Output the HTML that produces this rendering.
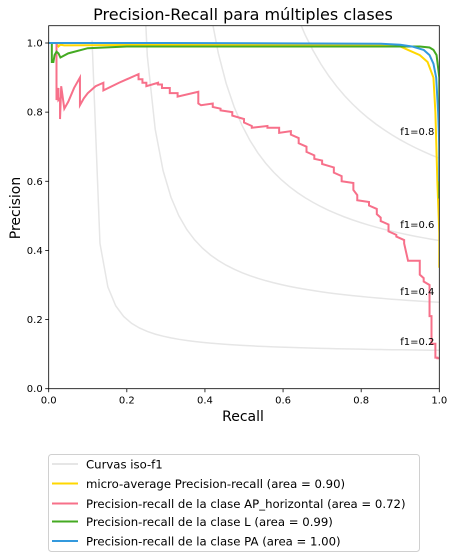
<!DOCTYPE html>
<html><head><meta charset="utf-8"><style>
html,body{margin:0;padding:0;background:#fff;}
svg{display:block;font-family:"DejaVu Sans","Liberation Sans",sans-serif;}
</style></head><body>
<svg id="chart" width="453" height="559" viewBox="0 0 453 559">
<text x="243" y="20" text-anchor="middle" font-size="16" fill="#000">Precision-Recall para múltiples clases</text>
<g id="plot"></g>
<text x="243" y="421" text-anchor="middle" font-size="14" fill="#000">Recall</text>
<text x="20" y="208" text-anchor="middle" font-size="14" fill="#000" transform="rotate(-90 20 208)">Precision</text>
<g>
<rect x="48.5" y="454.5" width="371" height="97" rx="3" fill="#fff" stroke="#d0d0d0"/>
<g id="legend"></g>
</g>
</svg>
<script>
const seriesNames=["micro-average Precision-recall (area = 0.90)","Precision-recall de la clase AP_horizontal (area = 0.72)","Precision-recall de la clase L (area = 0.99)","Precision-recall de la clase PA (area = 1.00)"];
const seriesColors=["gold","#f7708a","#44aa22","#3399dd"];
const isoF1=[0.2,0.4,0.6,0.8];
const xTicks=[0,0.2,0.4,0.6,0.8,1.0];
const yTicks=[0,0.2,0.4,0.6,0.8,1.0];
const microRecall=[0,0.02,0.025,0.03,0.04,0.3,0.6,0.85,0.9,0.92,0.95,0.97,0.985,0.99,0.995,1.0,1.0];
const microPrec=[1.0,1.0,0.99,0.995,0.993,0.995,0.995,0.993,0.99,0.98,0.965,0.945,0.9,0.8,0.6,0.45,0.35];
const apRecall=[0.02,0.02,0.025,0.025,0.029,0.029,0.032,0.04,0.05,0.065,0.08,0.08,0.09,0.1,0.12,0.14,0.14,0.18,0.23,0.23,0.24,0.24,0.25,0.25,0.28,0.28,0.29,0.29,0.31,0.31,0.33,0.33,0.383,0.383,0.39,0.42,0.42,0.44,0.44,0.47,0.47,0.5,0.5,0.52,0.52,0.56,0.56,0.59,0.59,0.62,0.62,0.64,0.64,0.66,0.66,0.68,0.68,0.7,0.7,0.73,0.73,0.75,0.75,0.78,0.78,0.79,0.79,0.82,0.82,0.84,0.84,0.85,0.85,0.87,0.87,0.89,0.89,0.91,0.91,0.92,0.92,0.95,0.95,0.96,0.96,0.975,0.975,0.98,0.98,0.99,0.99,0.995,0.995,1.0];
const apPrec=[1.0,0.835,0.87,0.835,0.84,0.78,0.875,0.81,0.83,0.87,0.9,0.82,0.84,0.855,0.875,0.885,0.863,0.885,0.91,0.895,0.895,0.885,0.885,0.875,0.885,0.88,0.88,0.87,0.87,0.855,0.855,0.845,0.859,0.825,0.82,0.825,0.815,0.81,0.805,0.8,0.79,0.78,0.77,0.76,0.755,0.76,0.755,0.755,0.74,0.745,0.735,0.725,0.71,0.7,0.685,0.675,0.665,0.66,0.65,0.64,0.625,0.615,0.6,0.595,0.575,0.56,0.545,0.54,0.53,0.52,0.505,0.495,0.485,0.475,0.455,0.445,0.44,0.43,0.42,0.37,0.37,0.37,0.33,0.32,0.31,0.30,0.21,0.21,0.13,0.13,0.09,0.09,0.088,0.088];
const lRecall=[0,0.008,0.008,0.012,0.015,0.02,0.025,0.03,0.05,0.1,0.2,0.5,0.9,0.95,0.975,0.985,0.993,1.0,1.0];
const lPrec=[1.0,1.0,0.945,0.945,0.965,0.975,0.97,0.958,0.97,0.985,0.99,0.99,0.99,0.99,0.987,0.98,0.965,0.9,0.55];
const paRecall=[0,0.3,0.6,0.85,0.9,0.93,0.96,0.975,0.985,0.992,0.997,1.0,1.0];
const paPrec=[1.0,1.0,0.999,0.998,0.995,0.99,0.98,0.965,0.94,0.9,0.8,0.7,0.6];
const seriesX=[microRecall,apRecall,lRecall,paRecall];
const seriesY=[microPrec,apPrec,lPrec,paPrec];

const L=48.7,R=439.3,Y0=388.7,Y1=43.0;
const sx=v=>L+v*(R-L);
const sy=v=>Y0-v*(Y0-Y1);
const NS="http://www.w3.org/2000/svg";
const plot=document.getElementById('plot');
function mk(tag,attrs,parent){const e=document.createElementNS(NS,tag);for(const k in attrs)e.setAttribute(k,attrs[k]);(parent||plot).appendChild(e);return e;}
const defs=mk('defs',{});
const cp=mk('clipPath',{id:'clip'},defs);
mk('rect',{x:L,y:sy(1.05),width:R-L,height:Y0-sy(1.05)},cp);
const g=mk('g',{'clip-path':'url(#clip)'});
isoF1.forEach(f=>{
  const pts=[];
  for(let i=0;i<50;i++){const x=0.01+i*(0.99/49);const y=f*x/(2*x-f);if(y>=0&&2*x-f>0)pts.push(sx(x).toFixed(2)+','+sy(Math.min(y,3)).toFixed(2));}
  const p=mk('polyline',{points:pts.join(' '),fill:'none',stroke:'#e6e6e6','stroke-width':1.5},g);
  
  
  const t=mk('text',{x:sx(0.9),y:sy(f*0.9/(1.8-f)+0.02)+2,'font-size':10,fill:'#000'});
  t.textContent='f1='+f.toFixed(1);
  
  
});
seriesX.forEach((xs,si)=>{
  const pts=xs.map((x,i)=>sx(x).toFixed(2)+','+sy(seriesY[si][i]).toFixed(2));
  const p=mk('polyline',{points:pts.join(' '),fill:'none',stroke:seriesColors[si],'stroke-width':2,'stroke-linejoin':'miter'},g);
  
  
});
const fr=mk('rect',{x:L,y:sy(1.05),width:R-L,height:Y0-sy(1.05),fill:'none',stroke:'#000','stroke-width':0.8});


xTicks.forEach(v=>{
  mk('line',{x1:sx(v),x2:sx(v),y1:Y0,y2:Y0+3.5,stroke:'#000','stroke-width':0.8});
  const t=mk('text',{x:sx(v),y:Y0+15,'font-size':10,'text-anchor':'middle',fill:'#000'});
  t.textContent=v.toFixed(1);
  
  
});
yTicks.forEach(v=>{
  mk('line',{x1:L-3.5,x2:L,y1:sy(v),y2:sy(v),stroke:'#000','stroke-width':0.8});
  const t=mk('text',{x:L-6,y:sy(v)+3.5,'font-size':10,'text-anchor':'end',fill:'#000'});
  t.textContent=v.toFixed(1);
  
  
});
const lg=document.getElementById('legend');
const names=["Curvas iso-f1"].concat(seriesNames);
const cols=["#e6e6e6"].concat(seriesColors);
const rowY=[464,483.5,503.5,521.5,541];
names.forEach((n,i)=>{
  const ln=mk('line',{x1:52,x2:78,y1:rowY[i],y2:rowY[i],stroke:cols[i],'stroke-width':2},lg);
  
  
  const t=mk('text',{x:86,y:rowY[i]+4.5,'font-size':11.7,fill:'#000'},lg);
  t.textContent=n;
  
  
});
</script>
</body></html>
